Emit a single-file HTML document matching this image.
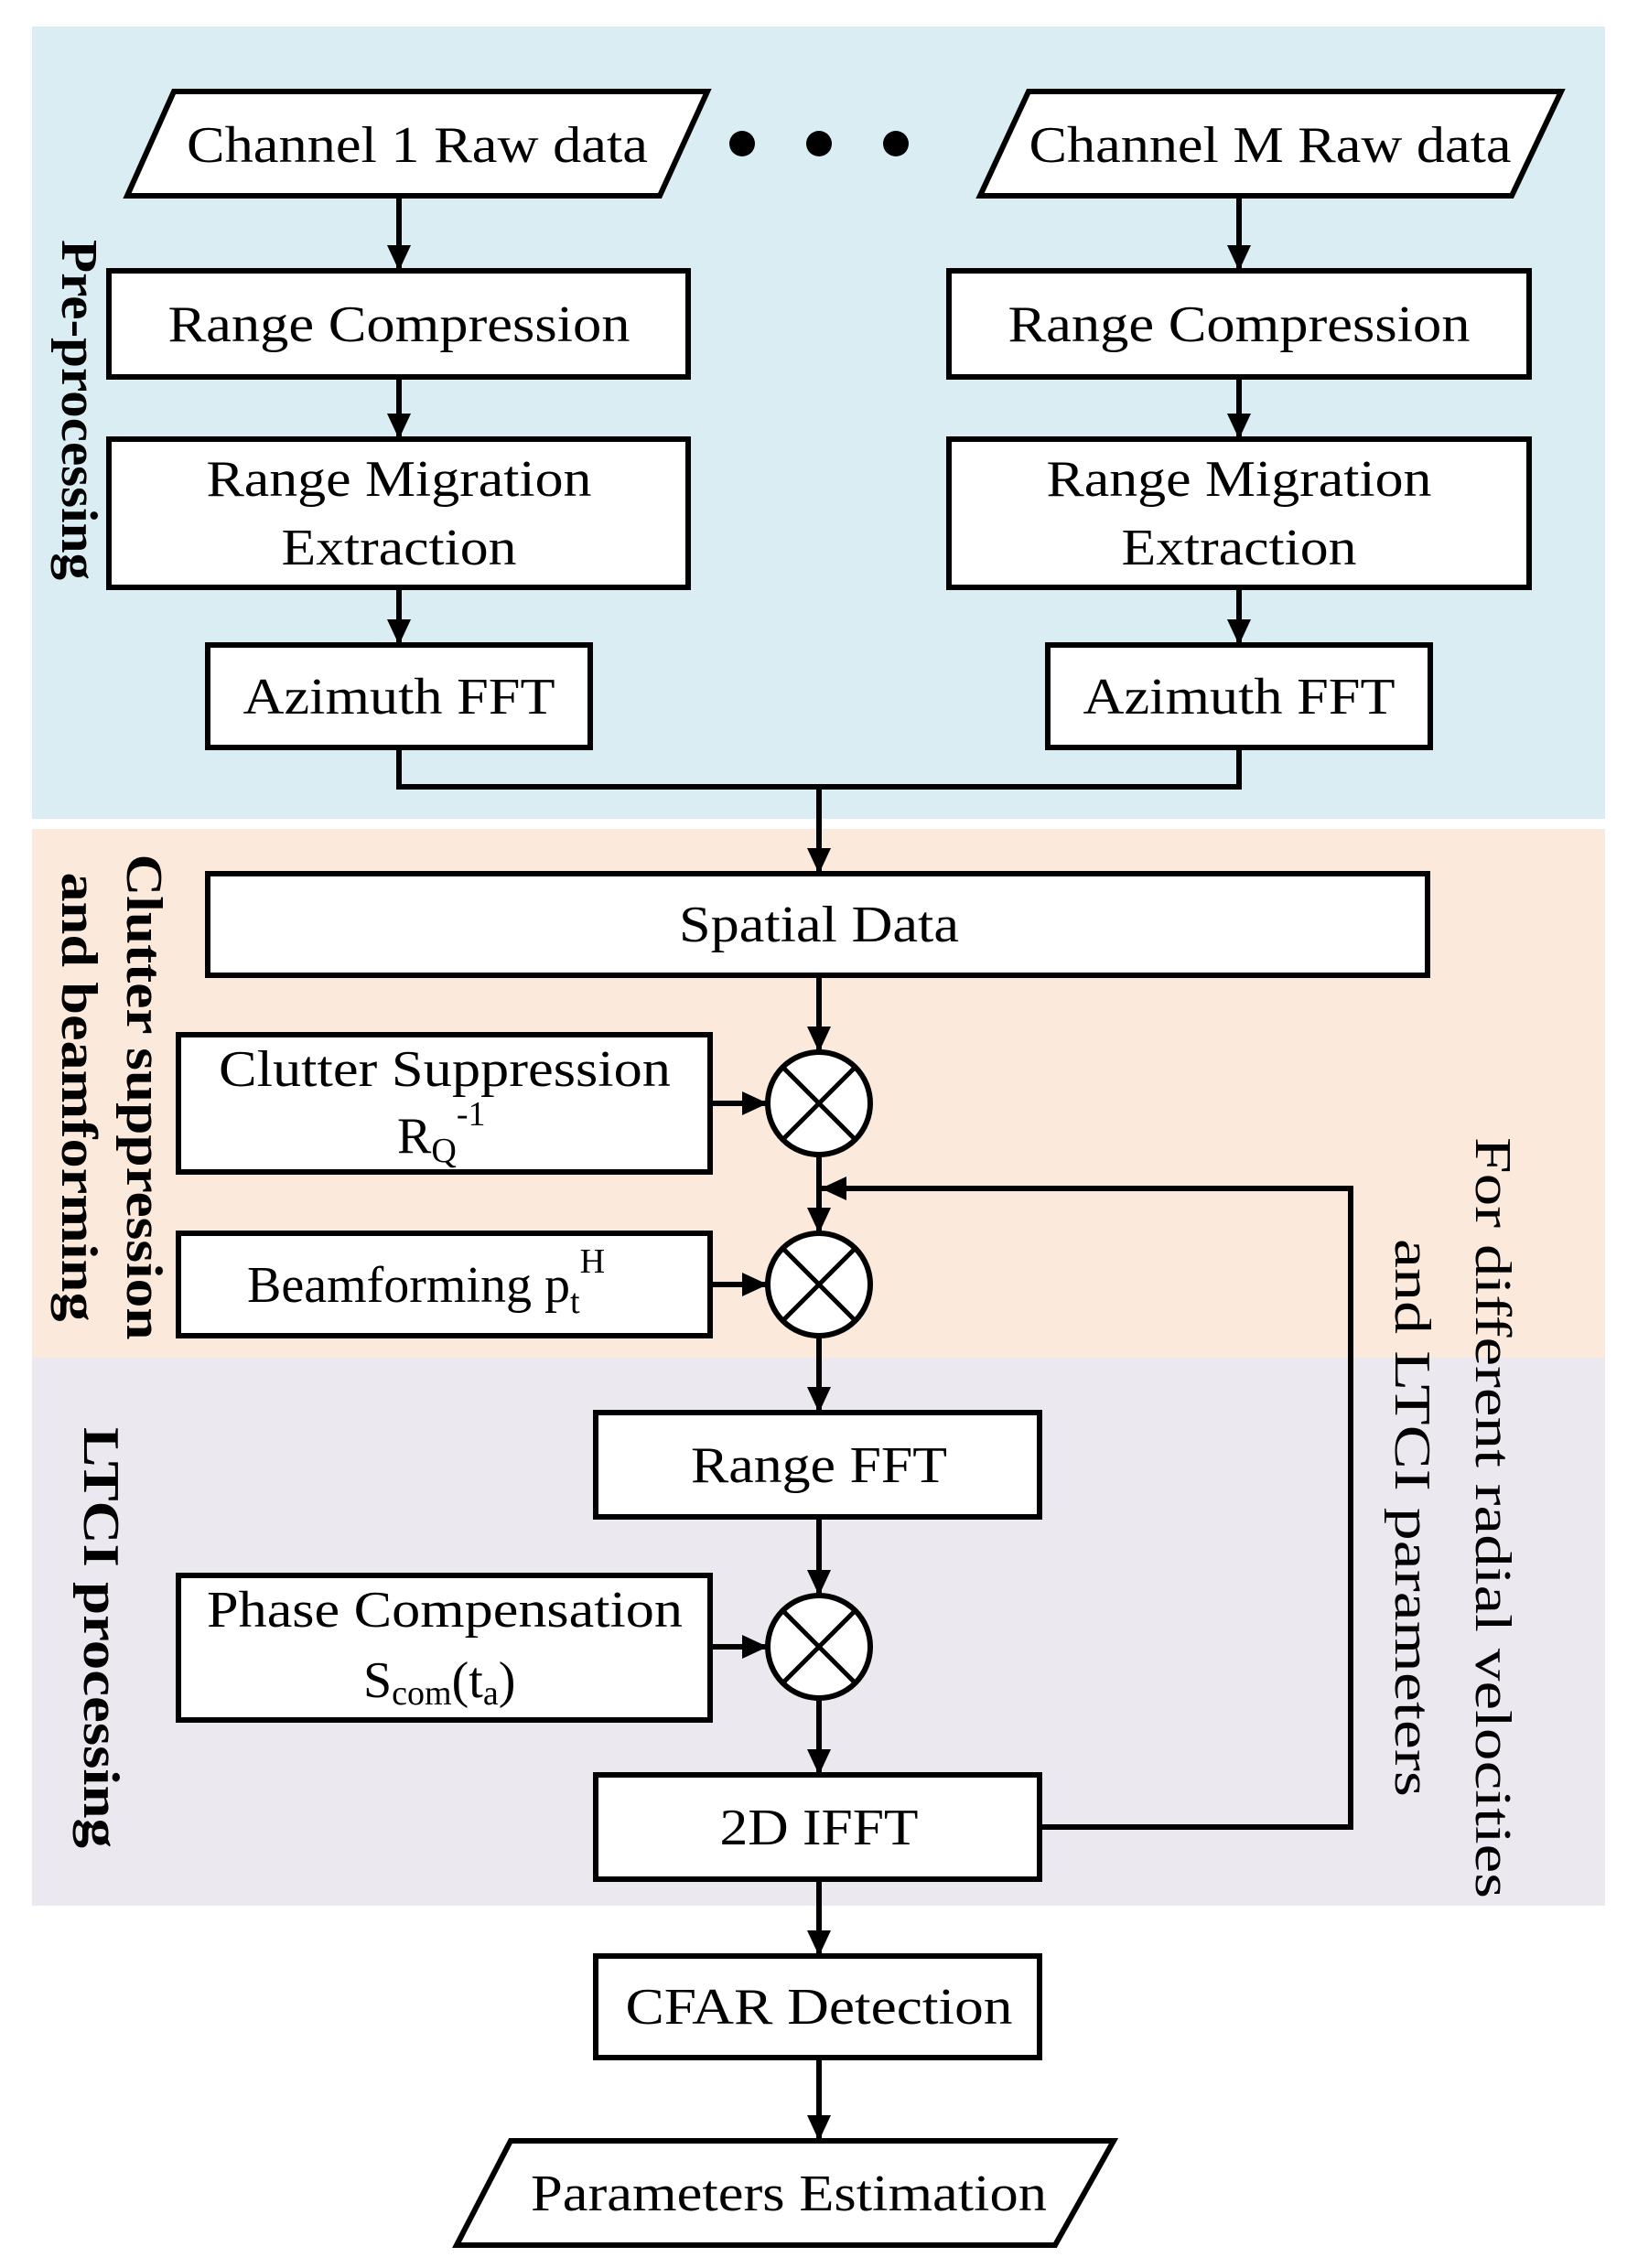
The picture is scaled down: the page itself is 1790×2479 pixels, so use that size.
<!DOCTYPE html>
<html><head><meta charset="utf-8"><style>html,body{margin:0;padding:0;background:#fff}svg{display:block}</style></head>
<body>
<svg width="1790" height="2479" viewBox="0 0 1790 2479" xmlns="http://www.w3.org/2000/svg" font-family="'Liberation Serif', serif" font-size="56">
<defs>
<marker id="a" markerWidth="28" markerHeight="26" refX="28" refY="13" orient="auto" markerUnits="userSpaceOnUse" viewBox="0 0 28 26"><path d="M0,0 L28,13 L0,26 z" fill="#000"/></marker>
</defs>
<rect x="35" y="29" width="1719" height="866" fill="#daedf2"/>
<rect x="35" y="906" width="1719" height="578" fill="#fbe9dc"/>
<rect x="35" y="1484" width="1719" height="599" fill="#ebe8f0"/>
<g stroke="#000" stroke-width="6" fill="#fff">
<polygon points="190,100 773,100 721,214 139,214"/>
<polygon points="1124,100 1706,100 1652,214 1071,214"/>
<rect x="119" y="296" width="633" height="116"/>
<rect x="1037" y="296" width="634" height="116"/>
<rect x="119" y="480" width="633" height="162"/>
<rect x="1037" y="480" width="634" height="162"/>
<rect x="227" y="705" width="418" height="112"/>
<rect x="1145" y="705" width="418" height="112"/>
<rect x="227" y="955" width="1333" height="111"/>
<rect x="195" y="1131" width="581" height="150"/>
<rect x="195" y="1348" width="581" height="112"/>
<rect x="651" y="1544" width="485" height="114"/>
<rect x="195" y="1722" width="581" height="158"/>
<rect x="651" y="1940" width="485" height="114"/>
<rect x="651" y="2138" width="485" height="111"/>
<polygon points="558,2340 1217,2340 1153,2454 499,2454"/>
<circle cx="895" cy="1206" r="56"/>
<circle cx="895" cy="1404" r="56"/>
<circle cx="895" cy="1800" r="56"/>
</g>
<g stroke="#000" stroke-width="5">
<path d="M855,1166 L935,1246 M935,1166 L855,1246"/>
<path d="M855,1364 L935,1444 M935,1364 L855,1444"/>
<path d="M855,1760 L935,1840 M935,1760 L855,1840"/>
</g>
<g fill="#000"><circle cx="811" cy="157" r="14"/><circle cx="895" cy="157" r="14"/><circle cx="979" cy="157" r="14"/></g>
<g stroke="#000" stroke-width="6" fill="none" marker-end="url(#a)">
<path d="M436,214 V296"/><path d="M1354,214 V296"/>
<path d="M436,412 V480"/><path d="M1354,412 V480"/>
<path d="M436,642 V705"/><path d="M1354,642 V705"/>
<path d="M895,860 V955"/>
<path d="M895,1066 V1150"/>
<path d="M776,1206 H839"/>
<path d="M895,1262 V1348"/>
<path d="M776,1404 H839"/>
<path d="M895,1460 V1544"/>
<path d="M895,1658 V1744"/>
<path d="M776,1800 H839"/>
<path d="M895,1856 V1940"/>
<path d="M895,2054 V2138"/>
<path d="M895,2249 V2340"/>
<path d="M1136,1997 H1476 V1299 H897"/>
</g>
<path d="M436,817 V860 H1354 V817" stroke="#000" stroke-width="6" fill="none"/>
<g text-anchor="middle">
<text x="456" y="177" textLength="504" lengthAdjust="spacingAndGlyphs">Channel 1 Raw data</text>
<text x="1388" y="177" textLength="527" lengthAdjust="spacingAndGlyphs">Channel M Raw data</text>
<text x="436" y="373" textLength="505" lengthAdjust="spacingAndGlyphs">Range Compression</text>
<text x="1354" y="373" textLength="505" lengthAdjust="spacingAndGlyphs">Range Compression</text>
<text x="436" y="542" textLength="421" lengthAdjust="spacingAndGlyphs">Range Migration</text>
<text x="436" y="617" textLength="257" lengthAdjust="spacingAndGlyphs">Extraction</text>
<text x="1354" y="542" textLength="421" lengthAdjust="spacingAndGlyphs">Range Migration</text>
<text x="1354" y="617" textLength="257" lengthAdjust="spacingAndGlyphs">Extraction</text>
<text x="436" y="780" textLength="341" lengthAdjust="spacingAndGlyphs">Azimuth FFT</text>
<text x="1354" y="780" textLength="341" lengthAdjust="spacingAndGlyphs">Azimuth FFT</text>
<text x="895" y="1029" textLength="306" lengthAdjust="spacingAndGlyphs">Spatial Data</text>
<text x="486" y="1187" textLength="494" lengthAdjust="spacingAndGlyphs">Clutter Suppression</text>
<text x="895" y="1620" textLength="280" lengthAdjust="spacingAndGlyphs">Range FFT</text>
<text x="486" y="1778" textLength="520" lengthAdjust="spacingAndGlyphs">Phase Compensation</text>
<text x="895" y="2016" textLength="217" lengthAdjust="spacingAndGlyphs">2D IFFT</text>
<text x="895" y="2212" textLength="423" lengthAdjust="spacingAndGlyphs">CFAR Detection</text>
<text x="862" y="2416" textLength="564" lengthAdjust="spacingAndGlyphs">Parameters Estimation</text>
</g>
<text x="434" y="1260">R<tspan font-size="38" dy="10">Q</tspan><tspan font-size="38" dy="-40">-1</tspan></text>
<text x="270" y="1423">Beamforming p<tspan font-size="38" dy="12">t</tspan><tspan font-size="38" dy="-44">H</tspan></text>
<text x="397" y="1855">S<tspan font-size="38" dy="8">com</tspan><tspan dy="-8">(t</tspan><tspan font-size="38" dy="8">a</tspan><tspan dy="-8">)</tspan></text>
<g text-anchor="middle" font-weight="bold">
<text transform="translate(68,448) rotate(90)" textLength="372" lengthAdjust="spacingAndGlyphs">Pre-processing</text>
<text transform="translate(139,1199) rotate(90)" textLength="531" lengthAdjust="spacingAndGlyphs">Clutter suppression</text>
<text transform="translate(68,1199) rotate(90)" textLength="491" lengthAdjust="spacingAndGlyphs">and beamforming</text>
<text transform="translate(92,1790) rotate(90)" textLength="460" lengthAdjust="spacingAndGlyphs">LTCI processing</text>
</g>
<g text-anchor="middle">
<text transform="translate(1613,1659) rotate(90)" textLength="832" lengthAdjust="spacingAndGlyphs">For different radial velocities</text>
<text transform="translate(1525,1659) rotate(90)" textLength="610" lengthAdjust="spacingAndGlyphs">and LTCI parameters</text>
</g>
</svg>
</body></html>
